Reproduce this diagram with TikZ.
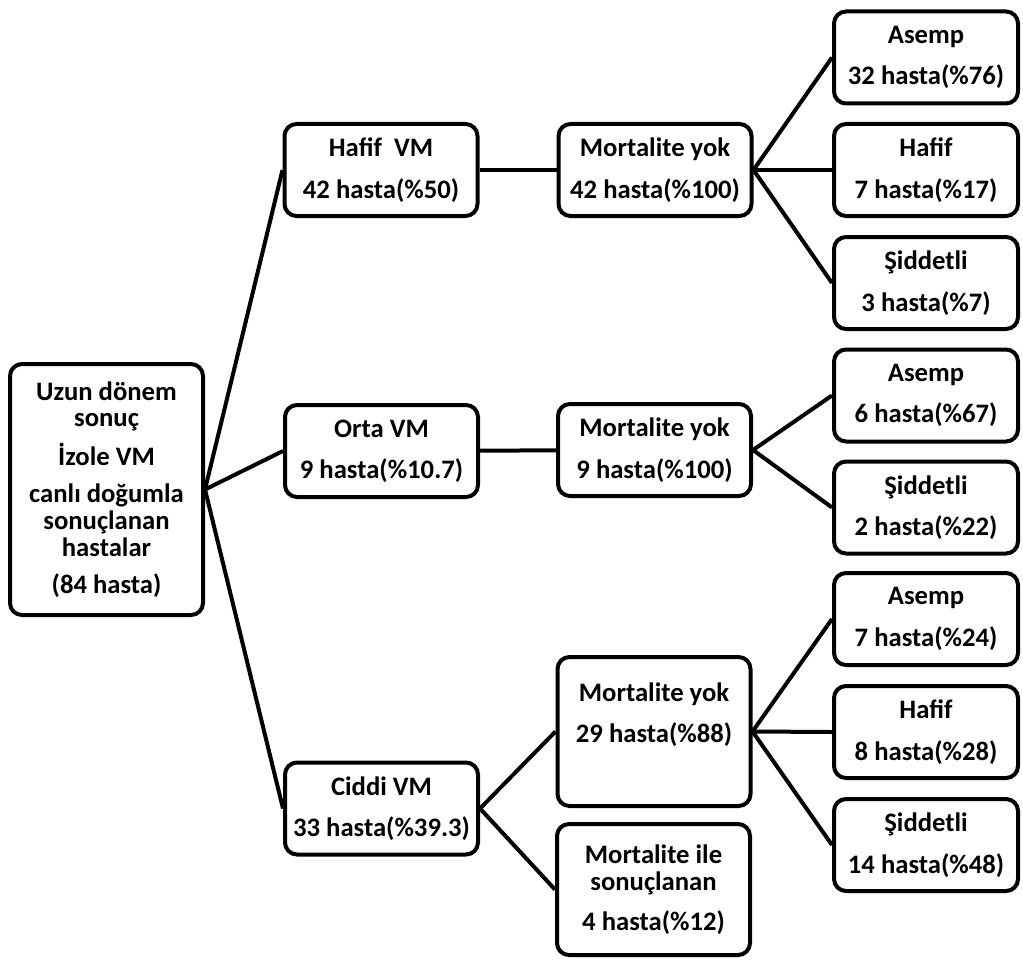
\documentclass[tikz,border=0pt]{standalone}
\usepackage{fontspec}
\setmainfont{Carlito}
\begin{document}
\begin{tikzpicture}[x=0.75pt, y=-0.75pt,
    kutu/.style = {draw, line width = 3pt, rounded corners = 9pt, align = center, inner sep = 0pt,
                   font = \bfseries\fontsize{20}{20}\selectfont,
                   minimum width = 144.75pt, minimum height = 69pt},
    sag/.style = {kutu, minimum width = 138pt},
    bag/.style = {line width = 3pt}]
      \useasboundingbox (0,0) rectangle (1023,963);

      \node [kutu, minimum height = 188.25pt] (kok) at (106.5,489.5)
            {Uzun dönem\\sonuç\\[8pt]İzole VM\\[8pt]canlı doğumla\\sonuçlanan\\hastalar\\[8pt](84 hasta)};

      \node [kutu] (hafifvm) at (381,170)   {Hafif\ \ VM\\[11pt]42 hasta(\%50)};
      \node [kutu] (ortavm)  at (381.5,451) {Orta VM\\[11pt]9 hasta(\%10.7)};
      \node [kutu] (ciddivm) at (381.5,808.5) {Ciddi VM\\[11pt]33 hasta(\%39.3)};

      \node [kutu] (yok1) at (655,170)   {Mortalite yok\\[11pt]42 hasta(\%100)};
      \node [kutu] (yok2) at (654.5,450) {Mortalite yok\\[11pt]9 hasta(\%100)};
      \node [kutu, minimum height = 111.75pt] (yok3) at (654,731.5)
            {Mortalite yok\\[11pt]29 hasta(\%88)\\[8pt]\mbox{}};
      \node [kutu, minimum height = 98.25pt] (ile) at (653.5,889.5)
            {Mortalite ile\\sonuçlanan\\[10pt]4 hasta(\%12)};

      \node [sag] (asemp1) at (926,57.5)  {Asemp\\[11pt]32 hasta(\%76)};
      \node [sag] (hafif1) at (926,170)   {Hafif\\[11pt]7 hasta(\%17)};
      \node [sag] (sid1)   at (926,283)   {Şiddetli\\[11pt]3 hasta(\%7)};
      \node [sag] (asemp2) at (926,395.5) {Asemp\\[11pt]6 hasta(\%67)};
      \node [sag] (sid2)   at (926,507.5) {Şiddetli\\[11pt]2 hasta(\%22)};
      \node [sag] (asemp3) at (926,619)   {Asemp\\[11pt]7 hasta(\%24)};
      \node [sag] (hafif3) at (926,732)   {Hafif\\[11pt]8 hasta(\%28)};
      \node [sag] (sid3)   at (926,845)   {Şiddetli\\[11pt]14 hasta(\%48)};

      \foreach \hedef in {hafifvm,ortavm,ciddivm}{
            \draw [bag] (kok.east) -- (\hedef.west);
      }
      \draw [bag] (hafifvm) -- (yok1);
      \draw [bag] (ortavm) -- (yok2);
      \draw [bag] (ciddivm.east) -- (yok3.west);
      \draw [bag] (ciddivm.east) -- (ile.west);

      \foreach \hedef in {asemp1,hafif1,sid1}{
            \draw [bag] (yok1.east) -- (\hedef.west);
      }
      \foreach \hedef in {asemp2,sid2}{
            \draw [bag] (yok2.east) -- (\hedef.west);
      }
      \foreach \hedef in {asemp3,hafif3,sid3}{
            \draw [bag] (yok3.east) -- (\hedef.west);
      }
\end{tikzpicture}
\end{document}
